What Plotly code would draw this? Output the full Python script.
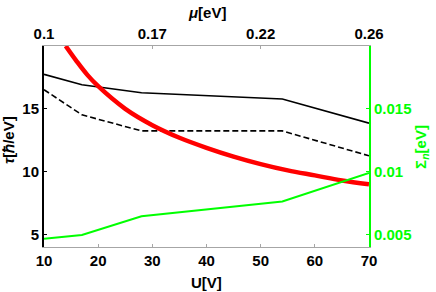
import plotly.graph_objects as go

# Data
U_pts = [10, 17, 28, 54, 70]
tau_solid = [17.74, 16.92, 16.28, 15.78, 13.86]
tau_dashed = [16.52, 14.52, 13.24, 13.24, 11.26]
sigma_n = [0.00466, 0.00495, 0.00644, 0.00762, 0.0099]

U_red = [14, 16, 18, 20, 25, 30, 35, 40, 45, 50, 55, 60, 65, 70]
tau_red = [20.0, 18.8, 17.7, 16.8, 15.0, 13.7, 12.7, 11.9, 11.2, 10.6, 10.1, 9.7, 9.3, 9.0]

U_ticks = [10, 20, 30, 40, 50, 60, 70]
mu_tickpos = [10, 30, 50, 70]
mu_ticklabels = ["0.1", "0.17", "0.22", "0.26"]
tau_ticks = [5, 10, 15]
sigma_ticks = [0.005, 0.01, 0.015]
sigma_ticklabels = ["0.005", "0.01", "0.015"]

FONT = "Liberation Sans"
GREEN = "#00FF00"
GRAY = "#A6A6A6"

fig = go.Figure()
fig.add_trace(go.Scatter(x=U_pts, y=tau_solid, mode="lines",
                         line=dict(color="black", width=1.6), xaxis="x", yaxis="y"))
fig.add_trace(go.Scatter(x=U_pts, y=tau_dashed, mode="lines",
                         line=dict(color="black", width=1.6, dash="6px,3px"), xaxis="x", yaxis="y"))
fig.add_trace(go.Scatter(x=U_red, y=tau_red, mode="lines",
                         line=dict(color="#FF0000", width=4.5, shape="spline"), xaxis="x", yaxis="y"))
fig.add_trace(go.Scatter(x=U_pts, y=sigma_n, mode="lines",
                         line=dict(color=GREEN, width=2), xaxis="x", yaxis="y2"))
# invisible trace to activate the top axis
fig.add_trace(go.Scatter(x=[10, 70], y=[10, 10], mode="lines", line=dict(width=0),
                         opacity=0, xaxis="x2", yaxis="y", hoverinfo="skip"))

tickfont = dict(family=FONT, size=15, color="black", weight="bold")
titlefont = dict(family=FONT, size=15, color="black", weight="bold")

fig.update_layout(
    width=436, height=292,
    margin=dict(l=44, r=67, t=46, b=45),
    paper_bgcolor="white", plot_bgcolor="white",
    showlegend=False,
    xaxis=dict(range=[10, 70], tickvals=U_ticks, ticks="inside", ticklen=3, tickcolor=GRAY,
               showline=True, linecolor=GRAY, linewidth=1, showgrid=False, zeroline=False,
               tickfont=tickfont),
    xaxis2=dict(range=[10, 70], overlaying="x", side="top", tickvals=mu_tickpos,
                ticktext=mu_ticklabels, ticks="inside", ticklen=3, tickcolor=GRAY,
                showline=True, linecolor=GRAY, linewidth=1, showgrid=False, zeroline=False,
                tickfont=tickfont),
    yaxis=dict(range=[4, 20], tickvals=tau_ticks, ticks="inside", ticklen=3, tickcolor="black",
               showline=True, linecolor="black", linewidth=2, showgrid=False, zeroline=False,
               tickfont=tickfont),
    yaxis2=dict(range=[0.004, 0.020], overlaying="y", side="right", tickvals=sigma_ticks,
                ticktext=sigma_ticklabels, ticks="inside", ticklen=3, tickcolor=GREEN,
                showline=True, linecolor=GREEN, linewidth=2, showgrid=False, zeroline=False,
                tickfont=dict(family=FONT, size=15, color=GREEN, weight="bold")),
    annotations=[
        dict(text="U[V]", xref="paper", yref="paper", x=0.5, y=-0.176,
             xanchor="center", yanchor="middle", showarrow=False, font=titlefont),
        dict(text="<i>μ</i>[eV]", xref="paper", yref="paper", x=0.5, y=1.169,
             xanchor="center", yanchor="middle", showarrow=False, font=titlefont),
        dict(text="<i>τ</i>[ℏ/eV]", xref="paper", yref="paper", x=-0.111, y=0.532,
             xanchor="center", yanchor="middle", showarrow=False, textangle=-90,
             font=titlefont),
        dict(text="Σ<sub><i>n</i></sub>[eV]", xref="paper", yref="paper", x=1.163, y=0.498,
             xanchor="center", yanchor="middle", showarrow=False, textangle=-90,
             font=dict(family=FONT, size=15, color=GREEN, weight="bold")),
    ],
)

fig.write_html("out.html", config={"displayModeBar": False},
               post_script="document.body.style.margin='0';document.body.style.padding='0';")
